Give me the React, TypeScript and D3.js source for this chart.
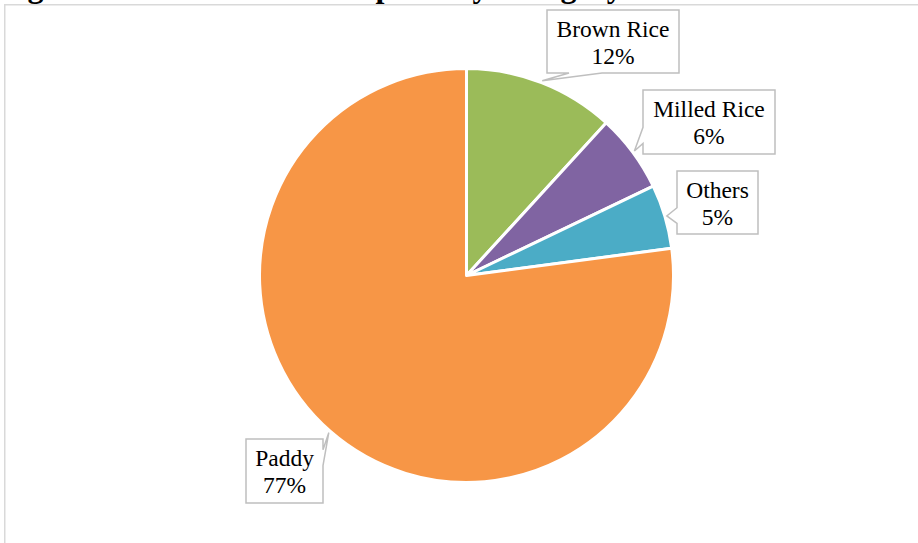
import React from "react";
import * as d3 from "d3";

const categories = ["Brown Rice", "Milled Rice", "Others", "Paddy"];
const shares = [11.8, 6.1, 5.0, 77.1];
const colors = ["#9BBB59", "#8064A2", "#4BACC6", "#F79646"];
const titleText = "Figure 12: Share of Rice Exports by Category";

const W = 918;
const H = 543;
const CX = 466.5;
const CY = 275.5;
const R = 207;

// label box layout (x, y, w, h) and the edge carrying the pointer
const boxes = [
  { x: 547, y: 10, w: 132, h: 63, side: "bottom" },
  { x: 643, y: 90, w: 132, h: 64, side: "left" },
  { x: 677, y: 171, w: 81, h: 63, side: "left" },
  { x: 246, y: 439, w: 77, h: 64, side: "right" },
];

function calloutPath(b: any, tx: number, ty: number) {
  const { x, y, w, h, side } = b;
  const cx = x + w / 2;
  const cy = y + h / 2;
  const fx1 = tx < cx ? 2 / 12 : 7 / 12;
  const fx2 = fx1 + 3 / 12;
  const fy1 = ty < cy ? 2 / 12 : 7 / 12;
  const fy2 = fy1 + 3 / 12;
  const p = d3.path();
  p.moveTo(x, y);
  if (side === "top") {
    p.lineTo(x + w * fx1, y);
    p.lineTo(tx, ty);
    p.lineTo(x + w * fx2, y);
  }
  p.lineTo(x + w, y);
  if (side === "right") {
    p.lineTo(x + w, y + h * fy1);
    p.lineTo(tx, ty);
    p.lineTo(x + w, y + h * fy2);
  }
  p.lineTo(x + w, y + h);
  if (side === "bottom") {
    p.lineTo(x + w * fx2, y + h);
    p.lineTo(tx, ty);
    p.lineTo(x + w * fx1, y + h);
  }
  p.lineTo(x, y + h);
  if (side === "left") {
    p.lineTo(x, y + h * fy2);
    p.lineTo(tx, ty);
    p.lineTo(x, y + h * fy1);
  }
  p.closePath();
  return p.toString();
}

export default function App() {
  const data = categories.map((c, i) => ({ name: c, value: shares[i], color: colors[i] }));
  const total = d3.sum(shares);
  const pie = d3
    .pie<any>()
    .value((d) => d.value)
    .sort(null)
    .startAngle(0)
    .endAngle(2 * Math.PI);
  const arcs = pie(data);
  const arc = d3.arc<any>().innerRadius(0).outerRadius(R);
  const tipArc = d3.arc<any>().innerRadius(R + 2).outerRadius(R + 2);
  const font = "'Liberation Serif', 'Times New Roman', serif";

  return (
    <svg
      width={W}
      height={H}
      style={{ position: "absolute", left: 0, top: 0, background: "#fff" }}
    >
      <rect x={0} y={0} width={W} height={H} fill="#fff" />
      <text
        x={-1}
        y={-3.5}
        fontFamily={font}
        fontWeight="bold"
        fontSize={32}
        fill="#000"
      >
        {titleText}
      </text>
      <path d={`M4.75,${H} V4.75 H${W}`} fill="none" stroke="#D9D9D9" strokeWidth={1.5} />
      <g transform={`translate(${CX},${CY})`}>
        {arcs.map((a, i) => (
          <path key={i} d={arc(a) as string} fill={a.data.color} stroke="#fff" strokeWidth={3} strokeLinejoin="round" />
        ))}
      </g>
      {arcs.map((a, i) => {
        const [dx, dy] = tipArc.centroid(a);
        const tx = CX + dx;
        const ty = CY + dy;
        const b = boxes[i];
        const pct = Math.round((a.data.value / total) * 100) + "%";
        return (
          <g key={"l" + i}>
            <path d={calloutPath(b, tx, ty)} fill="#fff" stroke="#BFBFBF" strokeWidth={1.5} />
            <text
              x={b.x + b.w / 2}
              textAnchor="middle"
              fontFamily={font}
              fontSize={23.5}
              fill="#000"
            >
              <tspan x={b.x + b.w / 2} y={b.y + 27}>{a.data.name}</tspan>
              <tspan x={b.x + b.w / 2} y={b.y + 54}>{pct}</tspan>
            </text>
          </g>
        );
      })}
    </svg>
  );
}
